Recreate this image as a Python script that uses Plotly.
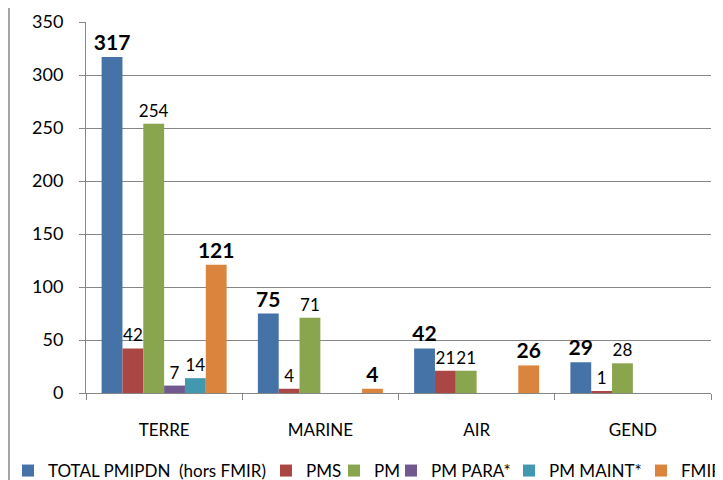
import plotly.graph_objects as go

categories = ["TERRE", "MARINE", "AIR", "GEND"]

total_pmipdn = [317, 75, 42, 29]
pms = [42, 4, 21, 1]
pm = [254, 71, 21, 28]
pm_para = [7, None, None, None]
pm_maint = [14, None, None, None]
fmir = [121, 4, 26, None]

series = [
    ("TOTAL PMIPDN  (hors FMIR)", total_pmipdn, "#4572A7", True),
    ("PMS", pms, "#AA4643", False),
    ("PM", pm, "#89A54E", False),
    ("PM PARA*", pm_para, "#71588F", False),
    ("PM MAINT*", pm_maint, "#4198AF", False),
    ("FMIR", fmir, "#DB843D", True),
]

font_family = "Lato, 'Open Sans', sans-serif"

# page body has an 8px margin, so the figure is a bit smaller than the window
W, H = 715, 472
L, R, T, B = 78, 12, 14, 87
pw, ph = W - L - R, H - T - B

# left edge (px) of each legend entry, one legend per entry so they sit in one row
legend_left = [0, 258, 326, 383, 501, 633]

fig = go.Figure()
legend_layout = {}
for i, (name, vals, color, bold) in enumerate(series):
    key = "legend" if i == 0 else f"legend{i + 1}"
    labels = ["" if v is None else (f"<b>{v}</b>" if bold else str(v)) for v in vals]
    fig.add_trace(go.Bar(
        x=categories, y=vals, name=name, legend=key,
        marker=dict(color=color, line=dict(width=0)),
        text=labels, textposition="outside", constraintext="none",
        textfont=dict(size=21 if bold else 17, color="black", family=font_family),
        cliponaxis=False,
    ))
    legend_layout[key] = dict(
        orientation="h", xref="container", yref="container",
        x=legend_left[i] / W, y=1 - 445 / H, xanchor="left", yanchor="top",
        bgcolor="rgba(0,0,0,0)", font=dict(size=17), itemwidth=30,
    )

fig.update_layout(
    width=W, height=H,
    margin=dict(l=L, r=R, t=T, b=B, autoexpand=False),
    barmode="group", bargap=0.2, bargroupgap=0,
    plot_bgcolor="white", paper_bgcolor="white",
    font=dict(family=font_family, color="black"),
    showlegend=True,
    **legend_layout,
)
fig.update_xaxes(
    showline=True, linecolor="#868686", linewidth=1,
    ticks="outside", ticklen=6, tickcolor="#868686", tickson="boundaries",
    tickfont=dict(size=17), ticklabelstandoff=22, automargin=False,
)
fig.update_yaxes(
    range=[0, 350], dtick=50,
    showline=True, linecolor="#868686", linewidth=1,
    showgrid=True, gridcolor="#868686", gridwidth=1,
    ticks="outside", ticklen=6, tickcolor="#868686",
    tickfont=dict(size=18), ticklabelstandoff=12, zeroline=False, automargin=False,
)
fig.add_shape(type="line", xref="paper", yref="paper",
              x0=-(L - 1) / pw, x1=-(L - 1) / pw, y0=-B / ph, y1=(ph + T) / ph,
              line=dict(color="#868686", width=1.5))

fig.write_html("out.html")
